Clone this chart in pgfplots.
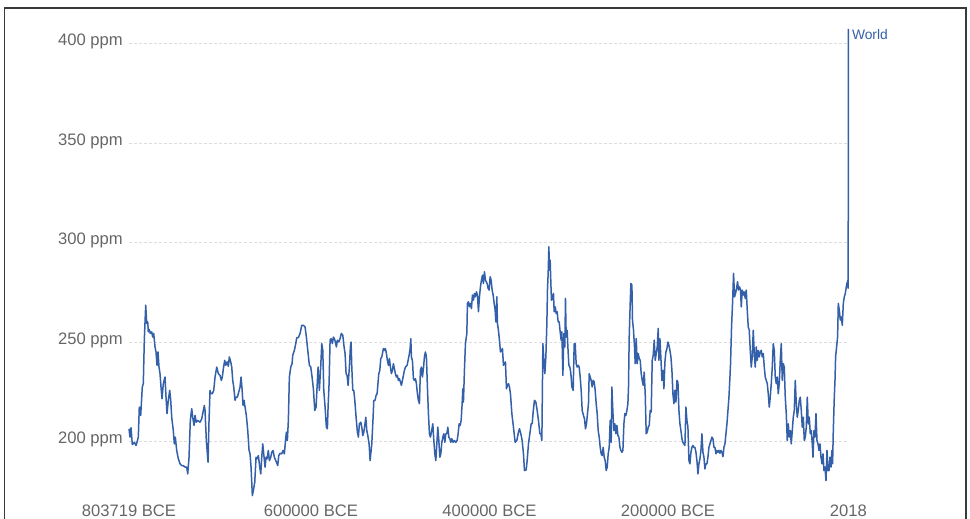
\documentclass[border=0pt]{standalone}
\usepackage{fontspec}
\setmainfont{Liberation Sans}
\usepackage{pgfplots}
\usepackage{pgfplotstable}
\pgfplotsset{compat=1.18}
\definecolor{owidblue}{HTML}{3360A9}
\definecolor{labelgray}{HTML}{666666}
\definecolor{gridgray}{HTML}{DDDDDD}
\definecolor{framegray}{HTML}{3A3A3A}

\pgfplotstableread{
year ppm
-803719 206.4
-802598 202.2
-801478 206.9
-800021 198.5
-797780 199.6
-795875 198.0
-794418 200.2
-793297 202.2
-792176 217.3
-790607 213.1
-788814 227.4
-787693 229.1
-786572 250.9
-785003 268.5
-783882 259.3
-782762 260.1
-782089 255.1
-780968 256.3
-779848 254.3
-778279 255.1
-777158 252.5
-776038 254.3
-774576 247.5
-773463 245.0
-772343 238.3
-771222 245.0
-770101 237.4
-768981 234.1
-767860 227.4
-766739 221.5
-765283 229.1
-763378 232.4
-762257 222.3
-761136 214.0
-759680 220.7
-758111 225.7
-756990 220.7
-755869 212.2
-754076 205.5
-752955 198.8
-751835 202.2
-750266 195.5
-748473 191.3
-746568 188.8
-744663 187.9
-742870 187.9
-740965 187.1
-739060 187.1
-737939 183.7
-736483 192.1
-735026 210.6
-733457 216.5
-732336 212.2
-730880 208.1
-729759 213.1
-728302 209.7
-726733 210.6
-724156 209.7
-722251 211.4
-720794 214.8
-719338 218.1
-718553 215.6
-717096 200.5
-715191 189.6
-714071 210.6
-712950 225.7
-711830 224.0
-710373 224.0
-708804 225.7
-707347 232.4
-705442 237.4
-703649 234.1
-701744 233.2
-700288 230.7
-699167 232.4
-698046 236.6
-696477 240.8
-695357 238.3
-693900 240.0
-692443 237.8
-691322 242.5
-689753 240.0
-688633 237.4
-687512 230.7
-686391 227.4
-684935 220.7
-683814 222.3
-682357 222.3
-680788 224.8
-679332 227.4
-678211 232.4
-677090 226.5
-675970 218.1
-674849 220.7
-673728 217.3
-672271 213.1
-670702 205.5
-669246 195.5
-668127 193.8
-667006 187.1
-665549 172.8
-664429 175.3
-662860 179.5
-661403 192.1
-660282 191.3
-658826 192.9
-657257 187.1
-656136 183.7
-655015 192.1
-653895 198.8
-652438 192.1
-651317 187.1
-650197 192.1
-649076 191.3
-647619 195.5
-646499 190.4
-644930 192.1
-643809 194.6
-642352 195.5
-640896 192.1
-639327 190.4
-637086 187.9
-635965 192.9
-634508 194.1
-632603 193.8
-631147 195.5
-629690 193.8
-628569 199.6
-627449 204.7
-626328 200.5
-625207 210.6
-624087 232.4
-622518 237.4
-621061 239.1
-620277 243.3
-618484 245.8
-616915 249.2
-615794 252.2
-614001 252.2
-612096 254.3
-610191 258.4
-608398 258.4
-606493 257.6
-605036 252.5
-603467 245.8
-601674 238.3
-600105 237.4
-598649 232.4
-597192 226.5
-595623 215.6
-594166 217.3
-593046 227.4
-591925 237.4
-590468 225.7
-588899 238.3
-587779 249.2
-586658 245.8
-585537 225.7
-584081 217.3
-582624 207.2
-581503 206.4
-580719 217.3
-579599 229.1
-578478 250.9
-577357 251.7
-575901 249.2
-574780 252.5
-573660 251.7
-572539 250.0
-571418 247.5
-570298 250.9
-568729 250.0
-567272 251.7
-565815 254.3
-564246 253.4
-562790 247.5
-561669 244.2
-560548 234.1
-559428 233.2
-558307 228.2
-556850 237.4
-555730 247.5
-554945 250.0
-554161 237.4
-553040 225.7
-551920 225.7
-550799 220.7
-549342 212.2
-547886 204.7
-546765 202.2
-545644 208.9
-544075 209.7
-542955 207.2
-541834 203.0
-540713 204.7
-539593 208.1
-538472 212.2
-537351 205.5
-536231 203.0
-534774 198.8
-533653 190.4
-531748 198.8
-530291 212.2
-529507 220.7
-528050 220.7
-526929 223.2
-525809 224.0
-525024 228.2
-523904 234.1
-522783 235.8
-521662 241.7
-520542 242.5
-518749 246.7
-517628 245.8
-516507 246.7
-515387 244.2
-514266 240.8
-513145 238.3
-512025 241.7
-510904 237.4
-509783 234.1
-508663 235.8
-507542 239.1
-506421 236.6
-505301 234.1
-504180 232.4
-503059 233.2
-501939 230.7
-500818 231.6
-499697 229.9
-498577 228.2
-497456 230.7
-496335 233.2
-495215 235.8
-494094 237.4
-492189 238.3
-491068 240.8
-489948 243.3
-488827 246.7
-488043 251.7
-487370 242.5
-486250 240.8
-485129 231.6
-484008 230.7
-482888 231.6
-481767 229.1
-480646 224.0
-479526 220.7
-478405 219.0
-477284 235.8
-476164 237.4
-475043 232.4
-473922 236.6
-472802 242.5
-471681 245.0
-470560 242.5
-469440 227.4
-468319 214.0
-467198 203.9
-466078 202.2
-464957 204.7
-463388 208.9
-462267 200.5
-461147 193.8
-460026 190.4
-458905 198.8
-457785 207.2
-456664 200.5
-455543 192.1
-454423 193.8
-453302 199.6
-452181 202.2
-451061 203.9
-449940 199.6
-448819 203.9
-447699 203.9
-446578 207.2
-445457 202.2
-444337 201.4
-443216 199.6
-442095 201.4
-440639 199.6
-439182 200.5
-437613 199.6
-436156 200.5
-435036 203.9
-433915 208.9
-432794 208.1
-431674 210.6
-430553 219.0
-429768 226.5
-429096 219.8
-427975 235.8
-426855 249.2
-425286 254.3
-424613 269.4
-423493 270.2
-422372 267.7
-421251 269.4
-420131 266.8
-419010 273.6
-417889 271.0
-416769 274.4
-415648 272.7
-414527 275.2
-413407 273.6
-412286 265.2
-411165 272.7
-410045 277.7
-408924 281.1
-407803 283.6
-406683 279.4
-405562 285.3
-404441 281.1
-402544 279.4
-401424 276.9
-400303 276.1
-399183 282.8
-398062 281.1
-396941 276.1
-395821 273.6
-394700 269.4
-393579 266.0
-392795 260.1
-391674 272.7
-391002 259.3
-389881 255.9
-388760 250.9
-387640 245.0
-386519 245.8
-385398 246.7
-384278 238.3
-383157 239.1
-382036 240.0
-380916 226.5
-379795 228.2
-378674 229.1
-377554 227.4
-376433 224.0
-374864 214.0
-373071 207.2
-371166 199.6
-369261 200.5
-367468 204.7
-366347 206.4
-364778 203.9
-363322 200.5
-361865 193.8
-360744 185.4
-358839 185.7
-357719 190.4
-356262 198.8
-354693 203.9
-353236 208.9
-352116 208.9
-350995 214.8
-349538 220.7
-347969 219.8
-346513 215.6
-345056 210.6
-343487 203.9
-342366 203.9
-341246 200.5
-340125 249.2
-339004 240.8
-337884 234.1
-336763 242.5
-335642 259.3
-334970 276.1
-334185 284.5
-333401 297.9
-332729 286.1
-331944 291.2
-331160 279.4
-330488 271.0
-329367 271.9
-328246 274.4
-327462 265.2
-326341 267.7
-325221 264.3
-324100 265.2
-322979 260.1
-321859 260.1
-320738 255.1
-319617 250.9
-318833 255.1
-317712 233.2
-316592 254.3
-315471 247.5
-314799 271.9
-314014 252.5
-312894 255.9
-312109 247.5
-310988 238.3
-309868 237.4
-308747 234.1
-307626 227.4
-306170 225.7
-305049 249.2
-303928 249.2
-302808 239.1
-301687 237.4
-300566 238.3
-299446 237.4
-298325 232.4
-297204 225.7
-296084 215.6
-294627 213.1
-293507 211.4
-292386 206.4
-291265 208.9
-290145 214.0
-289024 219.0
-288240 234.1
-287119 232.4
-285998 230.7
-284878 227.4
-283757 230.7
-282636 229.9
-281516 225.7
-280395 219.0
-279274 214.0
-278154 205.5
-277033 202.2
-275912 197.1
-274792 193.8
-273671 192.9
-272550 197.1
-271430 192.1
-270309 190.4
-269188 185.4
-268068 187.1
-266947 193.8
-265826 197.1
-264706 210.6
-263585 199.6
-262801 227.4
-261680 214.8
-260559 205.5
-259439 208.9
-258318 203.9
-257197 208.1
-256077 203.0
-254956 202.2
-253835 197.1
-252715 195.5
-251594 194.6
-250473 195.5
-249353 208.9
-248232 214.0
-247111 213.1
-245991 215.6
-244870 219.0
-244198 227.4
-243413 252.5
-242293 269.4
-241508 279.4
-240388 278.6
-239715 261.0
-238594 255.9
-237474 247.5
-236689 239.1
-235569 251.7
-234448 239.1
-233327 244.2
-232207 241.7
-231086 240.8
-229965 234.1
-228845 230.7
-227724 228.2
-226603 234.9
-225483 224.0
-224362 203.9
-223241 204.7
-222121 207.2
-221000 208.1
-219879 215.6
-218759 214.8
-217638 240.8
-216517 243.3
-215397 250.9
-214276 240.8
-213155 244.2
-212035 247.5
-210914 256.8
-210130 240.8
-209009 251.7
-207888 241.7
-206768 230.7
-205647 235.8
-204526 226.5
-203406 240.0
-202285 245.0
-201164 246.7
-200044 250.0
-198923 248.4
-197802 245.8
-196682 242.5
-195561 235.8
-194440 224.0
-193320 219.0
-192199 225.7
-191078 219.8
-189958 230.7
-188837 229.9
-187716 215.6
-186596 208.9
-185475 205.5
-184354 201.4
-183234 199.6
-182113 198.8
-180992 198.0
-179872 217.3
-178751 210.6
-177630 207.2
-176510 190.4
-175389 188.8
-174268 194.6
-173148 197.1
-172027 198.0
-170906 197.1
-169786 197.1
-168665 194.6
-167544 190.4
-166424 183.7
-165303 188.8
-164182 191.3
-163062 195.5
-161941 203.9
-160820 194.6
-159700 192.1
-158579 186.2
-157458 188.8
-156338 188.8
-155217 192.1
-154096 197.1
-152976 198.8
-151855 200.5
-150734 202.2
-149614 201.4
-148493 197.1
-147372 197.1
-146252 193.8
-145131 195.5
-144010 194.6
-142890 195.5
-141769 194.1
-140648 195.5
-139528 194.6
-138407 192.4
-137286 197.1
-136166 198.8
-135045 203.9
-133924 208.9
-132804 215.6
-131683 222.3
-130562 232.4
-129890 239.1
-128769 257.6
-127649 269.4
-126528 284.5
-125407 272.7
-124287 274.4
-123166 276.9
-122045 280.3
-120925 276.1
-119804 277.7
-118683 276.1
-117899 267.7
-116778 276.1
-115657 273.6
-114537 275.2
-113416 271.9
-112296 276.1
-111175 266.0
-110054 257.6
-108934 255.9
-107813 245.8
-106692 237.4
-105572 242.5
-104451 255.9
-103330 244.2
-102210 237.4
-101089 247.5
-99968 240.8
-98848 245.8
-97727 242.5
-96606 245.0
-95486 245.8
-94365 242.5
-93244 244.2
-92124 237.4
-91003 232.4
-89882 230.7
-88762 229.1
-87641 224.0
-86520 217.3
-85400 222.3
-84279 229.1
-83158 237.4
-82038 249.2
-80917 245.8
-79796 232.4
-78676 229.1
-77555 232.4
-76434 224.0
-75314 229.1
-74193 240.8
-73072 249.2
-71952 230.7
-70831 239.1
-69710 237.4
-68590 222.3
-67469 214.0
-66348 200.5
-65228 208.9
-64107 202.2
-62986 205.5
-61866 198.8
-60745 205.5
-59624 212.2
-58504 215.6
-57383 230.7
-56262 219.0
-55142 212.2
-54021 215.6
-52900 220.7
-51780 222.3
-50659 215.6
-49538 207.2
-48418 212.2
-47297 200.5
-46176 202.2
-45056 207.2
-43935 222.3
-42814 208.9
-41694 212.2
-40573 203.9
-39452 205.5
-38332 198.8
-37547 192.1
-36427 205.5
-35306 202.2
-34185 214.0
-33065 200.5
-31944 198.8
-30823 195.5
-29703 198.8
-28582 192.1
-27461 188.8
-26341 193.8
-25220 185.4
-24099 187.1
-22979 180.4
-21858 195.5
-20737 185.4
-19617 185.4
-18496 192.1
-17375 187.1
-16255 195.5
-15582 188.8
-14798 205.5
-13677 222.3
-12893 230.7
-12220 242.5
-11100 247.5
-9979 252.5
-9194 269.4
-8074 266.0
-6953 261.0
-5832 262.6
-4712 258.4
-3591 269.4
-2470 272.7
-1350 274.4
-229 277.7
500 279.5
1000 280.0
1500 281.0
1750 277.0
1800 283.0
1850 285.0
1900 296.0
1950 311.0
1960 317.0
1970 325.5
1980 338.7
1990 354.4
2000 369.7
2010 389.9
2018 407.4
}\co

\begin{document}
\begin{tikzpicture}
\useasboundingbox (0,0) rectangle (970bp,-519bp);
\draw[line width=1.8bp, framegray] (4.5bp,-8.3bp) rectangle (966bp,-560bp);
\begin{axis}[
  at={(129bp,-501.2bp)}, anchor=south west,
  width=719.3bp, height=477.6bp, scale only axis,
  xmin=-803719, xmax=2018, ymin=170, ymax=410,
  clip=false,
  axis line style={draw=none},
  major tick length=0pt,
  ytick={200,250,300,350,400},
  yticklabels={200 ppm,250 ppm,300 ppm,350 ppm,400 ppm},
  xtick={-803719,-600000,-400000,-200000,2018},
  xticklabels={803719 BCE,600000 BCE,400000 BCE,200000 BCE,2018},
  scaled x ticks=false,
  /pgf/number format/assume math mode=true,
  ymajorgrids,
  grid style={gridgray, line width=0.8bp, dash pattern=on 3bp off 2bp},
  tick label style={font=\fontsize{16.6bp}{20bp}\selectfont, text=labelgray},
  yticklabel style={anchor=base east, inner sep=0pt, xshift=-6bp, yshift=-2bp},
  xticklabel style={anchor=base, inner sep=0pt, yshift=-14.8bp},
]
\addplot[owidblue, line width=1.5bp, line join=round] table[x=year, y=ppm] {\co};
\node[anchor=base west, inner sep=0pt, xshift=3.5bp, text=owidblue, font=\fontsize{13.8bp}{16bp}\selectfont] at (axis cs:2018,401.8) {World};
\end{axis}
\end{tikzpicture}
\end{document}
